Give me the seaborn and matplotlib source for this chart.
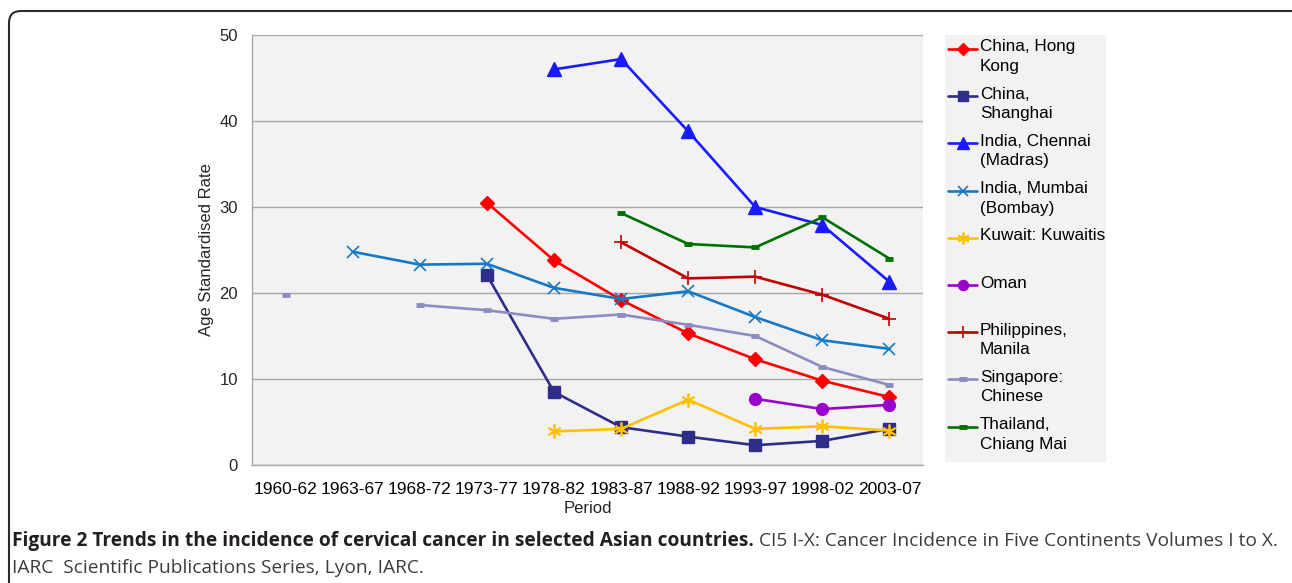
"""
Trends in the incidence of cervical cancer in selected Asian countries.
Line chart of age standardised rates by period (CI5 I-X).
"""

import numpy as np
import pandas as pd
import matplotlib
matplotlib.use("Agg")
import matplotlib.pyplot as plt
import seaborn as sns
from matplotlib.lines import Line2D
from matplotlib.patches import Rectangle, FancyBboxPatch
from matplotlib.transforms import IdentityTransform


# ========== Data ==========
periods = ["1960-62", "1963-67", "1968-72", "1973-77", "1978-82",
           "1983-87", "1988-92", "1993-97", "1998-02", "2003-07"]

nan = np.nan
hong_kong   = [nan, nan, nan, 30.5, 23.8, 19.2, 15.3, 12.3, 9.8, 7.9]
shanghai    = [nan, nan, nan, 22.1, 8.5, 4.4, 3.3, 2.3, 2.8, 4.2]
chennai     = [nan, nan, nan, nan, 46.0, 47.2, 38.8, 30.0, 27.9, 21.3]
mumbai      = [nan, 24.8, 23.3, 23.4, 20.6, 19.3, 20.2, 17.2, 14.5, 13.5]
kuwait      = [nan, nan, nan, nan, 3.9, 4.2, 7.6, 4.2, 4.5, 4.0]
oman        = [nan, nan, nan, nan, nan, nan, nan, 7.7, 6.5, 7.0]
philippines = [nan, nan, nan, nan, nan, 25.9, 21.7, 21.9, 19.8, 17.0]
singapore   = [19.8, nan, 18.6, 18.0, 17.0, 17.5, 16.3, 15.0, 11.4, 9.3]
thailand    = [nan, nan, nan, nan, nan, 29.3, 25.7, 25.3, 28.8, 24.0]

series_names = ["China, Hong Kong", "China, Shanghai", "India, Chennai (Madras)",
                "India, Mumbai (Bombay)", "Kuwait: Kuwaitis", "Oman",
                "Philippines, Manila", "Singapore: Chinese", "Thailand, Chiang Mai"]
legend_labels = ["China, Hong\nKong", "China,\nShanghai", "India, Chennai\n(Madras)",
                 "India, Mumbai\n(Bombay)", "Kuwait: Kuwaitis", "Oman",
                 "Philippines,\nManila", "Singapore:\nChinese", "Thailand,\nChiang Mai"]
series_values = [hong_kong, shanghai, chennai, mumbai, kuwait, oman,
                 philippines, singapore, thailand]

# style per series: colour, marker, marker size, marker edge width
styles = {
    "China, Hong Kong":        ("#ff0000", "D", 7.5, 1.0),
    "China, Shanghai":         ("#2e2e88", "s", 8.5, 1.0),
    "India, Chennai (Madras)": ("#1a1aff", "^", 9.5, 1.0),
    "India, Mumbai (Bombay)":  ("#1778c6", "x", 9.0, 1.2),
    "Kuwait: Kuwaitis":        ("#ffc000", (6, 2, 0), 10.0, 1.3),
    "Oman":                    ("#9900cc", "o", 8.5, 1.0),
    "Philippines, Manila":     ("#c00000", "+", 10.0, 1.2),
    "Singapore: Chinese":      ("#8c8cc0", "_", 6.0, 3.5),
    "Thailand, Chiang Mai":    ("#007000", "_", 6.0, 3.5),
}

rows = []
for name, vals in zip(series_names, series_values):
    for i, v in enumerate(vals):
        rows.append({"series": name, "pos": i, "period": periods[i], "rate": v})
df = pd.DataFrame(rows)


# ========== Figure ==========
sns.set_style("white")
plt.rcParams["font.family"] = ["Liberation Sans", "DejaVu Sans"]

W, H = 1292, 583
fig = plt.figure(figsize=(W / 100, H / 100), dpi=100)
ax = fig.add_axes([252 / W, 1 - 465 / H, (923 - 252) / W, (465 - 35) / H])
ax.set_facecolor("#f2f2f2")

for name in series_names:
    color, marker, ms, mew = styles[name]
    d = df[df["series"] == name].copy()
    # split into contiguous runs so missing periods leave gaps
    d["run"] = d["rate"].isna().cumsum()
    d = d.dropna(subset=["rate"])
    for _, seg in d.groupby("run"):
        sns.lineplot(data=seg, x="pos", y="rate", ax=ax, color=color,
                     marker=marker, markersize=ms, markeredgewidth=mew,
                     markeredgecolor=color, markerfacecolor=color,
                     linewidth=1.9, legend=False, zorder=3, clip_on=False)

# axes styling
ax.set_xlim(-0.5, len(periods) - 0.5)
ax.set_ylim(0, 50)
ax.set_yticks([0, 10, 20, 30, 40, 50])
ax.yaxis.grid(True, color="#a6a6a6", linewidth=1.0)
ax.set_axisbelow(True)
ax.set_xticks(np.arange(len(periods)))
ax.set_xticklabels(periods)
ax.set_xticks(np.arange(len(periods) + 1) - 0.5, minor=True)
ax.tick_params(axis="x", which="major", length=0, pad=12, labelsize=12.5, colors="black")
ax.tick_params(axis="x", which="minor", length=5, width=1, color="#a6a6a6")
ax.tick_params(axis="y", length=5, width=1, color="#a6a6a6", labelsize=12, pad=5)
for s in ["top", "right"]:
    ax.spines[s].set_visible(False)
for s in ["left", "bottom"]:
    ax.spines[s].set_color("#a6a6a6")
    ax.spines[s].set_linewidth(1.0)
ax.set_xlabel("Period", fontsize=12, labelpad=3)
ax.set_ylabel("Age Standardised Rate", fontsize=12, labelpad=4)


# ========== Legend (Excel style box) ==========
def fy(y):
    return 1 - y / H

fig.patches.append(Rectangle((945 / W, fy(462)), (1106 - 945) / W, (462 - 35) / H,
                             transform=fig.transFigure, facecolor="#f2f2f2",
                             edgecolor="none", zorder=0))
for i, (name, label) in enumerate(zip(series_names, legend_labels)):
    color, marker, ms, mew = styles[name]
    yc = 49 + i * 47.2
    fig.lines.append(Line2D([948 / W, 977 / W], [fy(yc), fy(yc)], transform=fig.transFigure,
                            color=color, linewidth=1.9))
    fig.lines.append(Line2D([962.5 / W], [fy(yc)], transform=fig.transFigure,
                            color=color, marker=marker, markersize=ms * 0.85,
                            markeredgewidth=mew, markerfacecolor=color,
                            markeredgecolor=color, linestyle="none"))
    fig.text(980 / W, fy(yc - 9.5), label, fontsize=12.3, va="top", ha="left",
             linespacing=1.38, color="black")


# ========== Frame and caption ==========
frame = FancyBboxPatch((9, -30), 1400, H - 11 + 30, boxstyle="round,pad=0,rounding_size=12",
                       transform=IdentityTransform(), facecolor="none",
                       edgecolor="#2b2b2b", linewidth=1.5)
fig.patches.append(frame)

cap_bold = "Figure 2 Trends in the incidence of cervical cancer in selected Asian countries."
cap_rest = " CI5 I-X: Cancer Incidence in Five Continents Volumes I to X."
cap_line2 = "IARC  Scientific Publications Series, Lyon, IARC."
cap_font = ["Open Sans", "DejaVu Sans"]

renderer = fig.canvas.get_renderer()
size = 13.0
t1 = fig.text(12 / W, fy(546), cap_bold, fontsize=size, fontweight="bold",
              family=cap_font, va="baseline", ha="left", color="#231f20")
t2 = fig.text(0, fy(546), cap_rest, fontsize=size, family=cap_font,
              va="baseline", ha="left", color="#3c3c3c")
# fit the first caption line to the reference width
w_total = (t1.get_window_extent(renderer).width + t2.get_window_extent(renderer).width)
size = size * (1256 / w_total)
t1.set_fontsize(size)
t2.set_fontsize(size)
bb = t1.get_window_extent(renderer)
t2.set_x(bb.x1 / W)
fig.text(12 / W, fy(573), cap_line2, fontsize=size, family=cap_font,
         va="baseline", ha="left", color="#3c3c3c")

fig.savefig("out.png", dpi=100)
